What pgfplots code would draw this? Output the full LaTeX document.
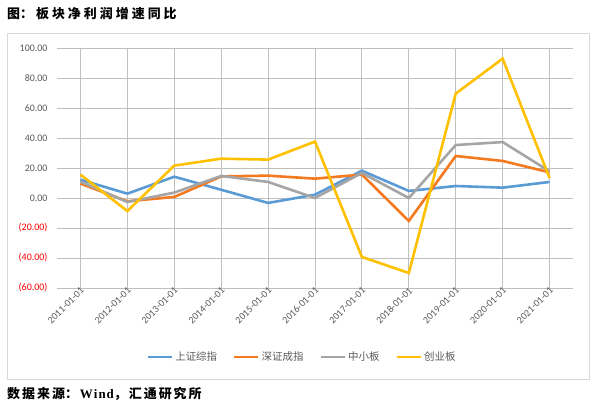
\documentclass[border=0pt]{standalone}
\usepackage{pgfplots}
\pgfplotsset{compat=1.18}
\usepackage{fontspec}
\setmainfont{Carlito}
\newfontfamily\cjk{Noto Sans CJK SC}
\definecolor{cblue}{HTML}{5B9BD5}
\definecolor{corange}{HTML}{F47A1F}
\definecolor{cgray}{HTML}{A5A5A5}
\definecolor{cyellow}{HTML}{FFC000}
\definecolor{txt}{HTML}{595959}
\definecolor{grid}{HTML}{D9D9D9}
\begin{document}
\begin{tikzpicture}
\path[use as bounding box] (0bp,0bp) rectangle (601bp,410bp);
\draw[grid, line width=0.9bp] (7bp,31bp) rectangle (589bp,377bp);
\node[anchor=west, inner sep=0pt, font=\cjk\bfseries\fontsize{13}{15}\selectfont] at (7bp,396bp)
  {图：\hspace{3bp}板\hspace{3bp}块\hspace{3bp}净\hspace{3bp}利\hspace{3bp}润\hspace{3bp}增\hspace{3bp}速\hspace{3bp}同\hspace{3bp}比};
\node[anchor=west, inner sep=0pt, font=\cjk\bfseries\fontsize{13}{15}\selectfont] at (7bp,16bp)
  {数\hspace{2bp}据\hspace{2bp}来\hspace{2bp}源：\hspace{2bp}{\fontspec{Liberation Serif}\bfseries W\hspace{1bp}i\hspace{1bp}n\hspace{1bp}d}，\hspace{2bp}汇\hspace{2bp}通\hspace{2bp}研\hspace{2bp}究\hspace{2bp}所};
\begin{axis}[
  at={(57bp,122bp)}, anchor=south west, scale only axis,
  width=516bp, height=240bp,
  xmin=-0.5, xmax=10.5, ymin=-60, ymax=100,
  axis line style={draw=none},
  major tick style={draw=none},
  ymajorgrids, grid style={grid, line width=0.9bp},
  ytick={-60,-40,-20,0,20,40,60,80,100},
  yticklabels={{\color{red}(60.00)},{\color{red}(40.00)},{\color{red}(20.00)},0.00,20.00,40.00,60.00,80.00,100.00},
  yticklabel style={font=\fontsize{10}{12}\selectfont, text=txt, anchor=east, xshift=-6bp},
  xtick={0,...,10},
  xticklabels={2011-01-01,2012-01-01,2013-01-01,2014-01-01,2015-01-01,2016-01-01,2017-01-01,2018-01-01,2019-01-01,2020-01-01,2021-01-01},
  xticklabel style={font=\fontsize{10}{12}\selectfont, text=txt, rotate=45, anchor=east, xshift=4bp, yshift=-2bp},
  legend style={at={(0.475,-0.2875)}, anchor=center, draw=none, fill=none,
    font=\cjk\fontsize{10.5}{12}\selectfont, text=txt, legend columns=4,
    /tikz/every even column/.append style={column sep=14bp}},
  legend image code/.code={\draw[#1, line width=2.6bp] (0bp,0bp) -- (24bp,0bp);},
  every axis plot/.append style={line width=2.6bp, mark=none},
]
\addplot[cblue] coordinates {(0,12.2) (1,2.9) (2,14.2) (3,5.5) (4,-3.3) (5,2.2) (6,18.2) (7,4.7) (8,8.0) (9,6.9) (10,10.7)};
\addplot[corange] coordinates {(0,9.6) (1,-2.2) (2,0.7) (3,14.4) (4,14.9) (5,12.9) (6,15.6) (7,-15.3) (8,28.0) (9,24.7) (10,17.1)};
\addplot[cgray] coordinates {(0,10.9) (1,-2.7) (2,3.6) (3,14.7) (4,10.7) (5,0.0) (6,16.7) (7,0.0) (8,35.3) (9,37.3) (10,17.8)};
\addplot[cyellow] coordinates {(0,15.6) (1,-8.7) (2,21.6) (3,26.2) (4,25.6) (5,37.6) (6,-39.3) (7,-50.0) (8,69.6) (9,92.9) (10,13.3)};
\legend{上证综指,深证成指,中小板,创业板}
\end{axis}
\end{tikzpicture}
\end{document}
